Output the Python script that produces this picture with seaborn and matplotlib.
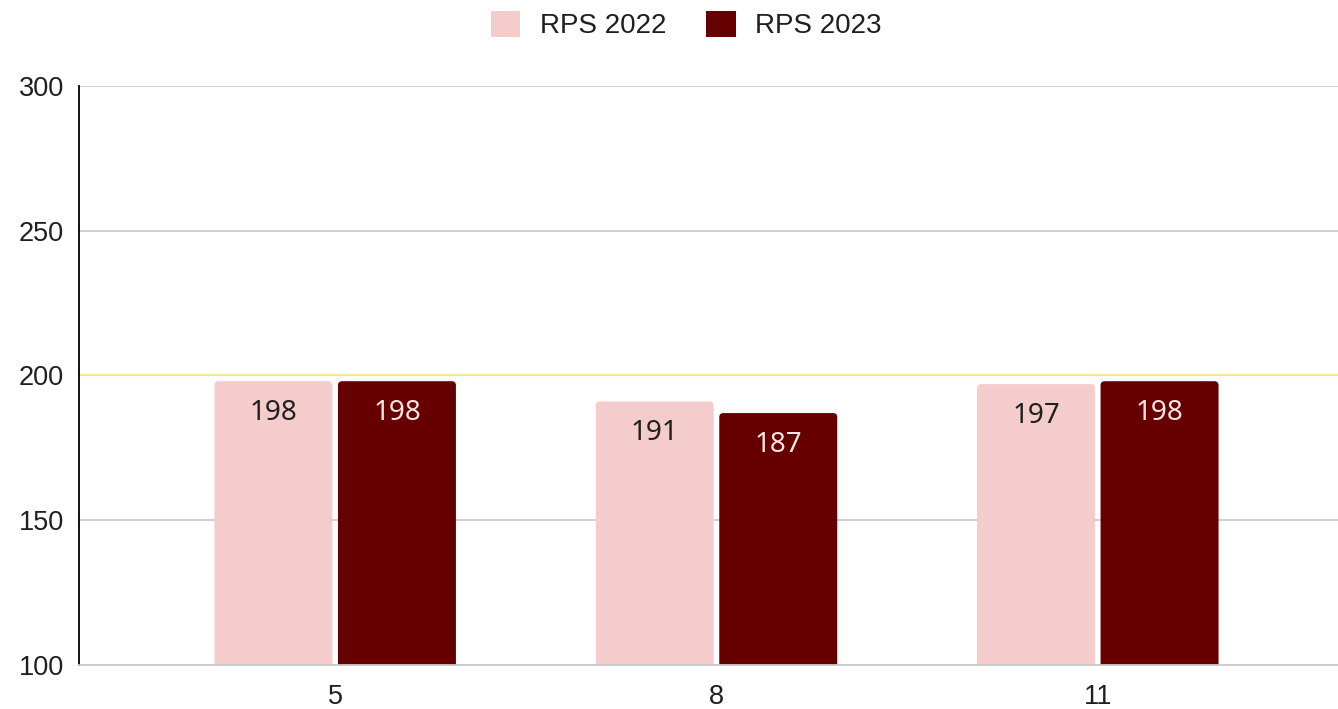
import pandas as pd
import matplotlib.pyplot as plt
import seaborn as sns
from matplotlib.patches import FancyBboxPatch, Patch

months = ["5", "8", "11"]
series_names = ["RPS 2022", "RPS 2023"]
rps_2022 = [198, 191, 197]
rps_2023 = [198, 187, 198]

df = pd.DataFrame({
    "month": months * 2,
    "series": [series_names[0]] * 3 + [series_names[1]] * 3,
    "value": rps_2022 + rps_2023,
})

colors = {"RPS 2022": "#f4cccc", "RPS 2023": "#660000"}
label_colors = {"RPS 2022": "#1f1f1f", "RPS 2023": "#fbe4e4"}

sns.set_style("white")
plt.rcParams["font.family"] = ["Liberation Sans", "DejaVu Sans"]

fig = plt.figure(figsize=(13.38, 7.09), dpi=100)
ax = fig.add_axes([0.059, 0.062, 0.941, 0.817])

sns.barplot(data=df, x="month", y="value", hue="series", order=months,
            hue_order=series_names, palette=colors, width=0.648, gap=0.045,
            saturation=1, legend=False, ax=ax, zorder=3)

ax.set_ylim(100, 300)
ax.set_xlim(-0.672, 2.63)
ax.set_yticks([100, 150, 200, 250, 300])

# gridlines (200 line is highlighted in yellow)
for y in [150, 250, 300]:
    ax.axhline(y, color="#cccccc", lw=1.3, zorder=1)
ax.axhline(200, color="#ffe599", lw=1.5, zorder=1)

# rounded bar tops
for cont, name in zip(ax.containers, series_names):
    for p in cont.patches:
        x, w, h = p.get_x(), p.get_width(), p.get_height()
        fb = FancyBboxPatch((x, 0), w, h,
                            boxstyle="round,pad=0,rounding_size=0.011",
                            mutation_aspect=130, fc=colors[name], ec="none",
                            zorder=3)
        ax.add_patch(fb)
        p.set_visible(False)
    ax.bar_label(cont, labels=[str(int(v)) for v in cont.datavalues],
                 padding=-33, fontsize=20, color=label_colors[name],
                 family="Noto Sans", zorder=4)

for s in ["top", "right"]:
    ax.spines[s].set_visible(False)
ax.spines["left"].set_color("#000000")
ax.spines["left"].set_linewidth(1.3)
ax.spines["bottom"].set_color("#c8c8c8")
ax.spines["bottom"].set_linewidth(1.3)
ax.spines["bottom"].set_zorder(5)

ax.tick_params(axis="both", length=0, labelsize=19.5, colors="#1f1f1f")
ax.tick_params(axis="y", pad=11)
ax.tick_params(axis="x", pad=14)
ax.set_xlabel("")
ax.set_ylabel("")

handles = [Patch(facecolor=colors[n], edgecolor="none") for n in series_names]
fig.legend(handles, series_names, loc="upper center", bbox_to_anchor=(0.513, 1.02),
           ncol=2, frameon=False, fontsize=20, handlelength=1.05, handleheight=1.05,
           handletextpad=0.7, columnspacing=1.45, labelcolor="#1f1f1f")

fig.savefig("out.png", dpi=100)
